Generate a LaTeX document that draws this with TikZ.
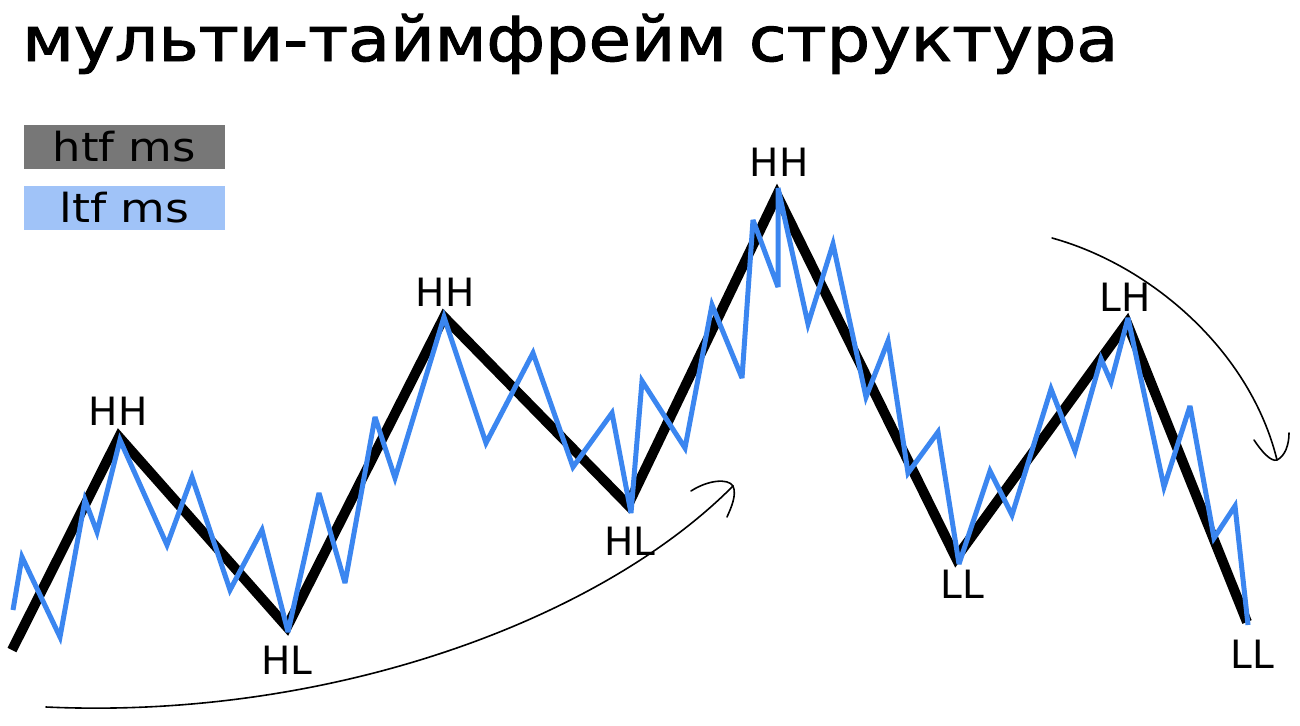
\documentclass[tikz,border=0pt]{standalone}
\usepackage{fontspec}
\setmainfont{DejaVu Sans}
\newfontfamily\titlefont[FakeBold=1.6]{DejaVu Sans}
\usepackage{graphicx}
\definecolor{ltfblue}{RGB}{59,134,240}
\definecolor{htfgray}{RGB}{119,119,119}
\definecolor{ltflight}{RGB}{160,195,248}
\tikzset{
  htfline/.style={line width=10pt, black, line join=miter, miter limit=20},
  ltfline/.style={line width=5pt, ltfblue, line join=miter, miter limit=4},
  lbl/.style={font=\fontsize{39}{42}\selectfont, inner sep=0pt, text=black},
  legendbox/.style={minimum width=201pt, minimum height=44pt, inner sep=0pt,
    font=\fontsize{40}{44}\selectfont, text=black},
  curvearrow/.style={line width=1.6pt, black, line cap=round},
  arrowhead/.style={line width=1.6pt, black, line cap=round, line join=round}
}
\begin{document}
\begin{tikzpicture}[x=1pt,y=-1pt]
\useasboundingbox (0,0) rectangle (1300,725);
\fill[white] (0,0) rectangle (1300,725);

% title
\node[anchor=base west, inner sep=0pt, font=\titlefont\fontsize{62}{70}\selectfont] (title) at (22,61)
  {\resizebox{1096pt}{\height}{мульти-таймфрейм структура}};

% legend
\node[legendbox, fill=htfgray] (htf) at (124.5,147) {\resizebox{143pt}{\height}{htf ms}};
\node[legendbox, fill=ltflight] (ltf) at (124.5,208) {\resizebox{130pt}{\height}{ltf ms}};

% htf swing points
\coordinate (b0) at (12,650);
\coordinate (b1) at (119,437);
\coordinate (b2) at (287,627);
\coordinate (b3) at (444,317);
\coordinate (b4) at (628,505);
\coordinate (b5) at (777,195);
\coordinate (b6) at (956,558);
\coordinate (b7) at (1127,323);
\coordinate (b8) at (1247,622);
\draw[htfline] (b0) -- (b1) -- (b2) -- (b3) -- (b4) -- (b5) -- (b6) -- (b7) -- (b8);

% ltf line
\draw[ltfline] (13,610) -- (22,557) -- (60,637) -- (85,500) -- (97,532) -- (120,440)
  -- (167,545) -- (192,477) -- (230,590) -- (262,530) -- (288,632) -- (319,493)
  -- (345,583) -- (375,417) -- (395,478) -- (444,317) -- (486,443) -- (533,353)
  -- (573,467) -- (612,413) -- (631,513) -- (642,381) -- (685,448) -- (712,305)
  -- (742,378) -- (753,220) -- (778,287) -- (778,188) -- (808,324) -- (833,244)
  -- (866,397) -- (888,341) -- (908,473) -- (938,432) -- (959,564) -- (990,471)
  -- (1012,515) -- (1051,389) -- (1075,451) -- (1101,359) -- (1111,382) -- (1128,318)
  -- (1164,487) -- (1190,406) -- (1214,538) -- (1235,506) -- (1248,625);

% labels
\node[lbl] (hh1) at (118,411) {HH};
\node[lbl] (hl1) at (287,660) {HL};
\node[lbl] (hh2) at (445,292) {HH};
\node[lbl] (hl2) at (630,541) {HL};
\node[lbl] (hh3) at (779,162) {HH};
\node[lbl] (ll1) at (962,584) {LL};
\node[lbl] (lh) at (1125,297) {LH};
\node[lbl] (ll2) at (1252,654) {LL};

% curved arrows
\coordinate (a1s) at (46,707);
\coordinate (a1e) at (733,486);
\draw[curvearrow] (a1s) .. controls (330,720) and (600,620) .. (a1e);
\draw[arrowhead] (691,491) .. controls (708,480) and (728,478) .. (a1e)
  .. controls (737,495) and (731,508) .. (727,517);

\coordinate (a2s) at (1052,238);
\coordinate (a2e) at (1277,460);
\draw[curvearrow] (a2s) .. controls (1150,265) and (1250,350) .. (a2e);
\draw[arrowhead] (1254,440) .. controls (1262,452) and (1271,462) .. (a2e)
  .. controls (1285,456) and (1289,445) .. (1289,433);
\end{tikzpicture}
\end{document}
